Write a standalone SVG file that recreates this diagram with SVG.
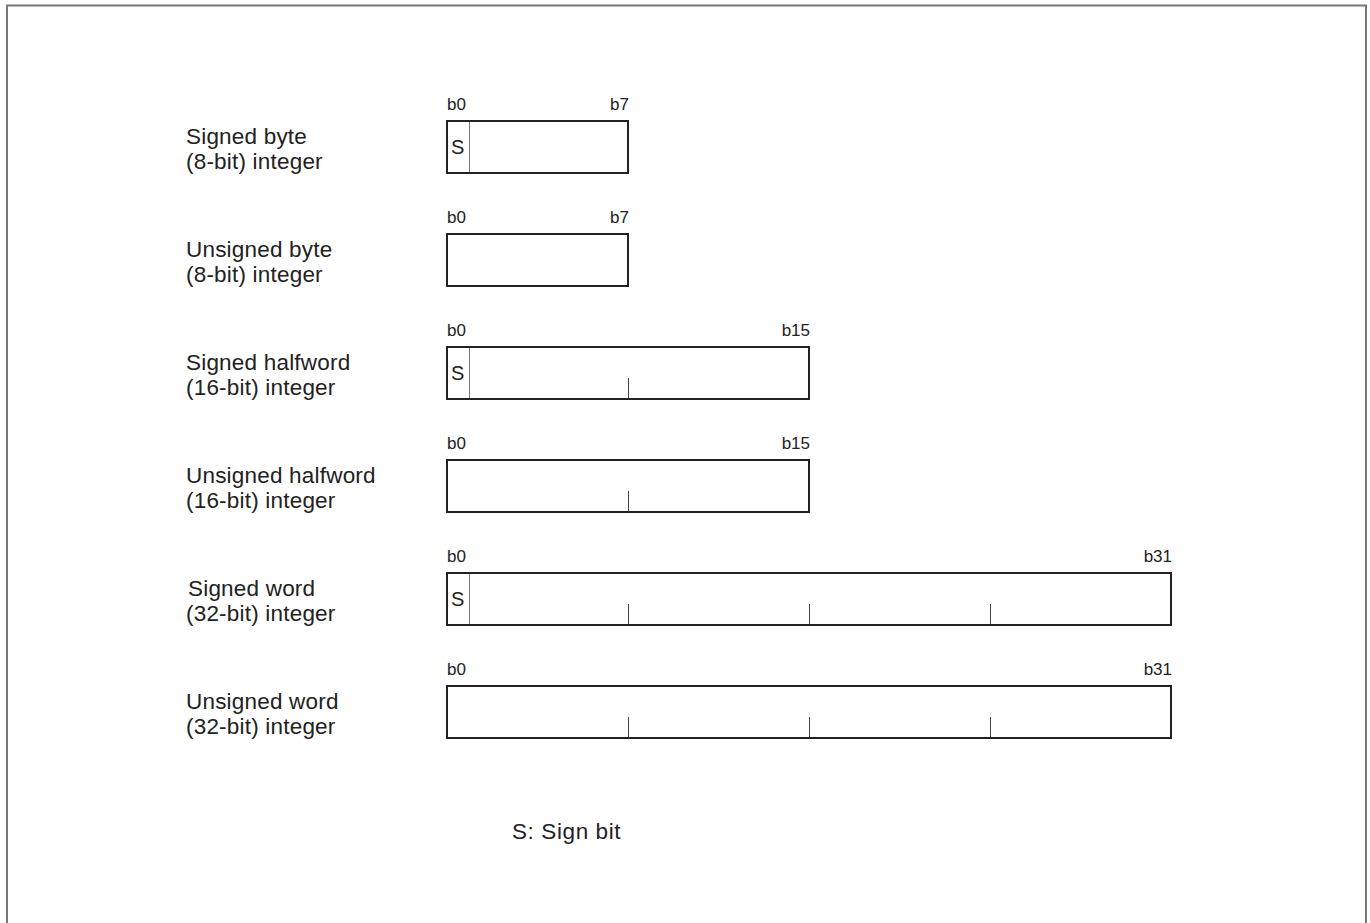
<svg xmlns="http://www.w3.org/2000/svg" width="1370" height="923" viewBox="0 0 1370 923">
<style>
.lbl{font-family:"Liberation Sans",Arial,sans-serif;font-size:22.5px;fill:#222;letter-spacing:0.2px}
.bit{font-family:"Liberation Sans",Arial,sans-serif;font-size:17px;fill:#222}
.s{font-family:"Liberation Sans",Arial,sans-serif;font-size:20px;fill:#222}
.box{fill:#fff;stroke:#222;stroke-width:2}
.div{stroke:#777;stroke-width:1}
.tick{stroke:#444;stroke-width:1}
</style>
<rect width="1370" height="923" fill="#fff"/>
<path d="M7 923 V5.5 H1366 V923" fill="none" stroke="#777" stroke-width="2"/>

<g id="signed-byte">
<text class="lbl" x="186" y="144">Signed byte</text>
<text class="lbl" x="186" y="169">(8-bit) integer</text>
<text class="bit" x="447" y="110">b0</text>
<text class="bit" x="629" y="110" text-anchor="end">b7</text>
<rect class="box" x="447" y="121" width="181" height="52"/>
<line class="div" x1="469.5" y1="122" x2="469.5" y2="172"/>
<text class="s" x="451" y="154">S</text>
</g>

<g id="unsigned-byte">
<text class="lbl" x="186" y="257">Unsigned byte</text>
<text class="lbl" x="186" y="282">(8-bit) integer</text>
<text class="bit" x="447" y="223">b0</text>
<text class="bit" x="629" y="223" text-anchor="end">b7</text>
<rect class="box" x="447" y="234" width="181" height="52"/>
</g>

<g id="signed-halfword">
<text class="lbl" x="186" y="370">Signed halfword</text>
<text class="lbl" x="186" y="395">(16-bit) integer</text>
<text class="bit" x="447" y="336">b0</text>
<text class="bit" x="810" y="336" text-anchor="end">b15</text>
<rect class="box" x="447" y="347" width="362" height="52"/>
<line class="div" x1="469.5" y1="348" x2="469.5" y2="398"/>
<line class="tick" x1="628.5" y1="378" x2="628.5" y2="398"/>
<text class="s" x="451" y="380">S</text>
</g>

<g id="unsigned-halfword">
<text class="lbl" x="186" y="483">Unsigned halfword</text>
<text class="lbl" x="186" y="508">(16-bit) integer</text>
<text class="bit" x="447" y="449">b0</text>
<text class="bit" x="810" y="449" text-anchor="end">b15</text>
<rect class="box" x="447" y="460" width="362" height="52"/>
<line class="tick" x1="628.5" y1="491" x2="628.5" y2="511"/>
</g>

<g id="signed-word">
<text class="lbl" x="188" y="596">Signed word</text>
<text class="lbl" x="186" y="621">(32-bit) integer</text>
<text class="bit" x="447" y="562">b0</text>
<text class="bit" x="1172" y="562" text-anchor="end">b31</text>
<rect class="box" x="447" y="573" width="724" height="52"/>
<line class="div" x1="469.5" y1="574" x2="469.5" y2="624"/>
<line class="tick" x1="628.5" y1="604" x2="628.5" y2="624"/>
<line class="tick" x1="809.5" y1="604" x2="809.5" y2="624"/>
<line class="tick" x1="990.5" y1="604" x2="990.5" y2="624"/>
<text class="s" x="451" y="606">S</text>
</g>

<g id="unsigned-word">
<text class="lbl" x="186" y="709">Unsigned word</text>
<text class="lbl" x="186" y="734">(32-bit) integer</text>
<text class="bit" x="447" y="675">b0</text>
<text class="bit" x="1172" y="675" text-anchor="end">b31</text>
<rect class="box" x="447" y="686" width="724" height="52"/>
<line class="tick" x1="628.5" y1="717" x2="628.5" y2="737"/>
<line class="tick" x1="809.5" y1="717" x2="809.5" y2="737"/>
<line class="tick" x1="990.5" y1="717" x2="990.5" y2="737"/>
</g>

<g id="connectors"></g>

<text class="lbl" x="512" y="839" style="letter-spacing:0.6px">S: Sign bit</text>
</svg>
